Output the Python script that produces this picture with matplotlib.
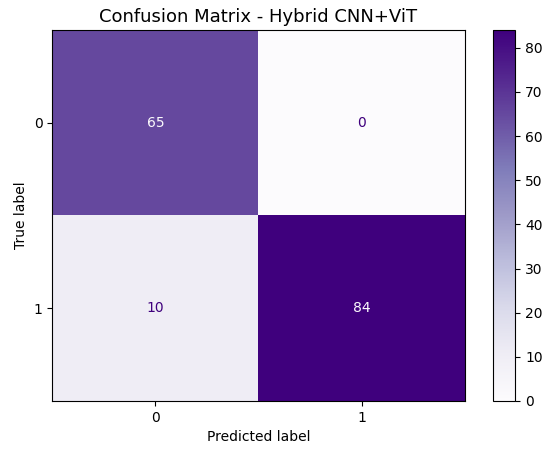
import numpy as np
import matplotlib
matplotlib.use("Agg")
import matplotlib.pyplot as plt

# confusion matrix values
class_labels = ["0", "1"]
cm = np.array([[65, 0],
               [10, 84]])

fig = plt.figure(figsize=(5.5, 4.49), dpi=100)
ax = fig.add_axes([0.095, 0.107, 0.75, 0.826])
cax = fig.add_axes([0.897, 0.107, 0.04, 0.826])

cmap = plt.get_cmap("Purples")
im = ax.imshow(cm, cmap=cmap, interpolation="nearest", aspect="auto")

# text colour flips at the midpoint, like sklearn
thresh = (cm.max() + cm.min()) / 2.0
for i in range(cm.shape[0]):
    for j in range(cm.shape[1]):
        color = cmap(0) if cm[i, j] > thresh else cmap(256)
        ax.text(j, i, format(cm[i, j], "d"), ha="center", va="center", color=color)

fig.colorbar(im, cax=cax)

ax.set_xticks(range(len(class_labels)))
ax.set_yticks(range(len(class_labels)))
ax.set_xticklabels(class_labels)
ax.set_yticklabels(class_labels)
ax.set_xlabel("Predicted label")
ax.set_ylabel("True label")
ax.set_title("Confusion Matrix - Hybrid CNN+ViT", fontsize=13)

fig.savefig("out.png", dpi=100)
